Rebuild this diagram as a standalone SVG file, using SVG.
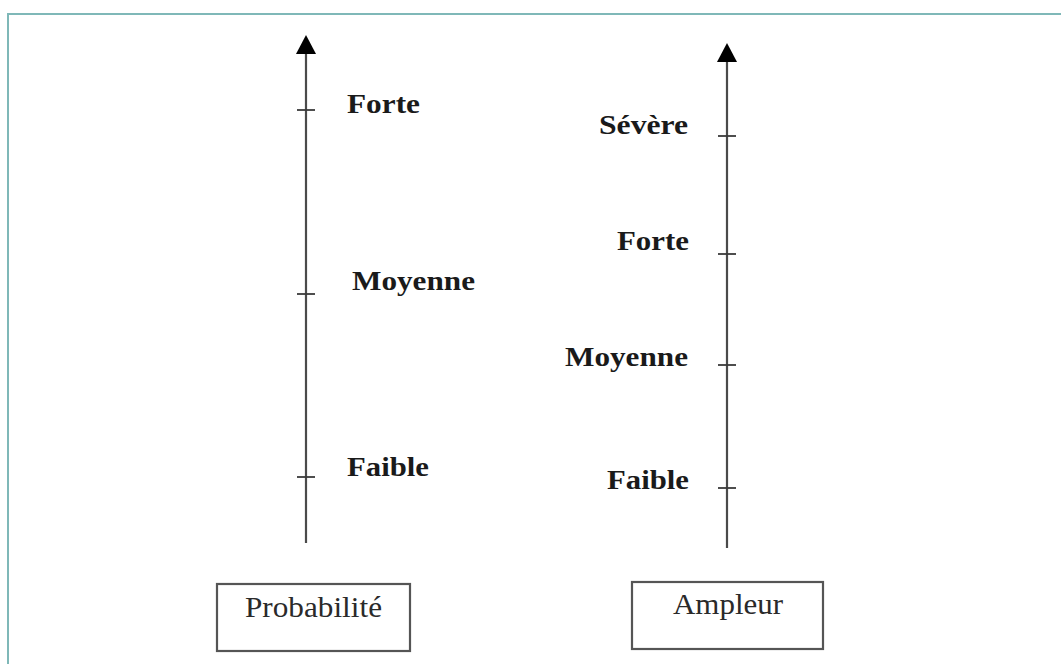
<svg xmlns="http://www.w3.org/2000/svg" width="1061" height="664" viewBox="0 0 1061 664">
<style>
.axis{stroke:#4a4a4a;stroke-width:2.2;fill:none}
.tick{stroke:#3a3a3a;stroke-width:1.8}
.lbl{font-family:"Liberation Serif","Times New Roman",serif;font-weight:bold;font-size:28px;fill:#1a1a1a}
.box{fill:#fff;stroke:#555;stroke-width:2.2}
.btxt{font-family:"Liberation Serif","Times New Roman",serif;font-size:29px;fill:#2a2a2a}
</style>
<defs>
<marker id="arr" markerWidth="19" markerHeight="20" refX="15" refY="10" orient="auto" markerUnits="userSpaceOnUse" viewBox="0 0 19 20">
<path d="M0 0 L19 10 L0 20 Z" fill="#000"/>
</marker>
</defs>
<rect width="1061" height="664" fill="#fff"/>
<path d="M8 680 V14 H1080" fill="none" stroke="#7fb8b8" stroke-width="2"/>
<g id="connectors">
<line class="axis" x1="306" y1="543" x2="306" y2="39" marker-end="url(#arr)"/>
<line class="axis" x1="727" y1="548" x2="727" y2="47" marker-end="url(#arr)"/>
</g>
<g id="axis-probabilite">
<line class="tick" x1="297" y1="110" x2="315" y2="110"/>
<line class="tick" x1="297" y1="294" x2="315" y2="294"/>
<line class="tick" x1="297" y1="477" x2="315" y2="477"/>
</g>
<g id="axis-ampleur">
<line class="tick" x1="718" y1="136" x2="736" y2="136"/>
<line class="tick" x1="718" y1="254" x2="736" y2="254"/>
<line class="tick" x1="718" y1="365" x2="736" y2="365"/>
<line class="tick" x1="718" y1="488" x2="736" y2="488"/>
</g>
<g id="label-forte-p"><text class="lbl" x="347" y="113" textLength="73" lengthAdjust="spacingAndGlyphs">Forte</text></g>
<g id="label-moyenne-p"><text class="lbl" x="352" y="290" textLength="123" lengthAdjust="spacingAndGlyphs">Moyenne</text></g>
<g id="label-faible-p"><text class="lbl" x="347" y="476" textLength="82" lengthAdjust="spacingAndGlyphs">Faible</text></g>
<g id="label-severe-a"><text class="lbl" x="599" y="134" textLength="89" lengthAdjust="spacingAndGlyphs">Sévère</text></g>
<g id="label-forte-a"><text class="lbl" x="617" y="250" textLength="72" lengthAdjust="spacingAndGlyphs">Forte</text></g>
<g id="label-moyenne-a"><text class="lbl" x="565" y="366" textLength="123" lengthAdjust="spacingAndGlyphs">Moyenne</text></g>
<g id="label-faible-a"><text class="lbl" x="607" y="489" textLength="82" lengthAdjust="spacingAndGlyphs">Faible</text></g>
<g id="box-probabilite">
<rect class="box" x="217" y="584" width="193" height="67"/>
<text class="btxt" x="245" y="617" textLength="137" lengthAdjust="spacingAndGlyphs">Probabilité</text>
</g>
<g id="box-ampleur">
<rect class="box" x="632" y="582" width="191" height="67"/>
<text class="btxt" x="673" y="614" textLength="110" lengthAdjust="spacingAndGlyphs">Ampleur</text>
</g>
</svg>
